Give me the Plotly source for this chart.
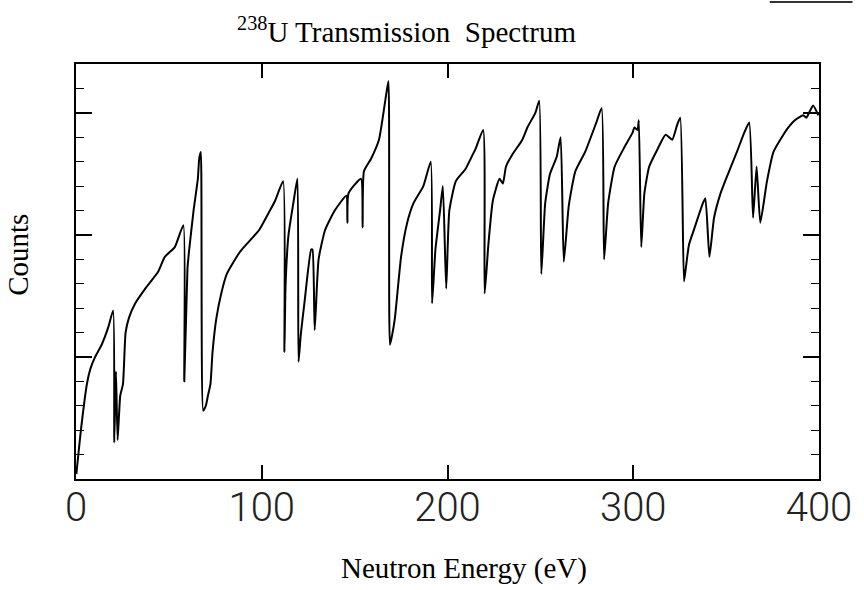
import plotly.graph_objects as go

# Neutron energy (eV) and detector counts (arbitrary units) along the trace
energy = [0.2, 2.8, 5.9, 7.7, 10.3, 13.8, 17.3, 20.0, 20.6, 21.5, 22.4, 23.8, 25.3, 26.7,
          28.5, 31.9, 37.3, 44.3, 47.8, 53.2, 57.8, 58.3, 60.0, 60.8, 63.3, 65.6, 66.3,
          67.2, 68.5, 69.9, 71.0, 72.4, 73.5, 75.6, 78.2, 81.2, 88.2, 91.6, 98.6, 103.7, 107.2,
          111.5, 112.2, 112.8, 114.4, 117.0, 119.2, 119.8, 121.0, 123.1, 126.6, 127.3, 128.5,
          130.6, 134.1, 139.3, 145.5, 146.1, 146.7, 153.4, 154.3, 155.0, 158.7, 163.1,
          166.5, 168.2, 169.0, 170.2, 171.7, 175.0, 178.3, 181.7, 187.0, 191.0, 191.7, 193.5,
          196.0, 197.5, 199.3, 201.0, 204.5, 209.7, 213.0, 215.0, 219.2, 220.0, 222.0,
          224.4, 228.0, 229.8, 231.5, 235.0, 240.3, 243.0, 247.3, 249.4, 250.5, 252.6,
          255.2, 258.8, 260.9, 262.6, 265.3, 268.8, 274.1, 280.1, 283.0, 284.3, 286.5,
          290.0, 295.3, 299.7, 300.6, 302.3, 303.0, 304.3, 306.0, 308.6, 313.0, 317.4,
          321.0, 323.6, 325.3, 327.3, 328.4, 330.0, 333.5, 337.0, 338.8, 341.0, 343.5, 347.0,
          350.5, 355.8, 359.3, 362.4, 364.5, 366.4, 368.4, 372.0, 375.5, 380.0, 383.5,
          387.0, 391.5, 393.2, 396.8, 399.6]
counts = [0.2, 2.1, 3.9, 4.5, 5.0, 5.5, 6.2, 6.9, 1.5, 4.4, 1.6, 3.4, 3.9, 6.0,
          6.6, 7.2, 7.8, 8.5, 9.1, 9.5, 10.4, 4.0, 8.6, 9.3, 11.0, 12.3, 13.1,
          13.4, 2.8, 3.0, 3.4, 3.9, 5.2, 6.6, 7.6, 8.4, 9.3, 9.6, 10.2, 10.9, 11.4,
          12.2, 5.2, 7.9, 10.0, 11.3, 12.3, 4.8, 5.9, 7.3, 9.4, 9.4, 6.1,
          9.0, 10.2, 11.0, 11.6, 10.5, 11.7, 12.3, 10.3, 12.6, 13.1, 13.9,
          15.5, 16.3, 5.5, 5.9, 6.6, 9.1, 10.5, 11.3, 12.0, 13.0, 7.2, 9.4,
          11.0, 12.0, 7.8, 11.0, 12.2, 12.7, 13.2, 13.5, 14.3, 7.6, 9.6,
          11.4, 12.3, 12.1, 12.8, 13.3, 13.9, 14.4, 15.0, 15.5, 8.4, 11.3,
          12.5, 13.2, 14.0, 8.9, 11.2, 12.6, 13.4, 14.6, 15.2, 9.0, 11.3,
          12.8, 13.6, 14.2, 14.4, 14.3, 14.7, 9.5, 11.7, 12.8, 13.5, 14.1,
          13.9, 14.5, 14.8, 8.1, 8.7, 9.6, 10.4, 11.2, 11.5, 9.1, 10.7, 11.7,
          12.4, 13.4, 14.1, 14.6, 10.7, 12.8, 10.5, 12.2, 13.4, 14.0, 14.4,
          14.7, 14.9, 14.8, 15.3, 14.9]

x_ticks = [0, 100, 200, 300, 400]
x_tick_text = ["0", "100", "200", "300", "400"]

serif = "Liberation Serif, Times New Roman, serif"

# Plotting area in pixels
plot_left, plot_right = 76, 830
plot_top, plot_bottom = 64, 479


def px_to_paper(x, y):
    return ((x - plot_left) / (plot_right - plot_left),
            (plot_bottom - y) / (plot_bottom - plot_top))


fig = go.Figure()
fig.add_trace(go.Scatter(
    x=energy, y=counts, mode="lines",
    line=dict(color="black", width=2, shape="spline", smoothing=0.5),
    showlegend=False, hoverinfo="skip",
))

labels = [
    ("<sup>238</sup>U Transmission\u00a0 Spectrum", 411, 30, 29, 0),
    ("Neutron Energy (eV)", 470, 568, 29, 0),
    ("Counts", 17, 255, 29, -90),
]
annotations = []
for text, x, y, size, angle in labels:
    ax, ay = px_to_paper(x, y)
    annotations.append(dict(
        text=text, x=ax, y=ay, xref="paper", yref="paper",
        xanchor="center", yanchor="middle", showarrow=False, textangle=angle,
        font=dict(family=serif, size=size, color="black"),
    ))

# short printed rule in the upper-right corner of the page
sx0, sy = px_to_paper(780, 2)
sx1, _ = px_to_paper(864, 2)

fig.update_layout(
    width=864, height=590,
    margin=dict(l=plot_left, r=864 - plot_right, t=plot_top, b=590 - plot_bottom),
    paper_bgcolor="white", plot_bgcolor="white",
    xaxis=dict(
        range=[0, 400], tickvals=x_ticks, ticktext=x_tick_text,
        showgrid=False, zeroline=False,
        showline=True, linecolor="black", linewidth=1.5, mirror="allticks",
        ticks="inside", ticklen=14, tickwidth=1.5, tickcolor="black",
        tickfont=dict(family="Roboto", size=40, color="#222", weight=300),
        ticklabelstandoff=-8,
    ),
    yaxis=dict(
        range=[0, 17], tickvals=[5, 10, 15], showticklabels=False,
        showgrid=False, zeroline=False,
        showline=True, linecolor="black", linewidth=1.5, mirror="allticks",
        ticks="inside", ticklen=16, tickwidth=1.5, tickcolor="black",
        minor=dict(dtick=1, ticks="inside", ticklen=8, tickwidth=1.2,
                   tickcolor="black", showgrid=False),
    ),
    annotations=annotations,
    shapes=[dict(type="line", xref="paper", yref="paper",
                 x0=sx0, x1=sx1, y0=sy, y1=sy,
                 line=dict(color="#333", width=2))],
)

fig.write_html("out.html")
